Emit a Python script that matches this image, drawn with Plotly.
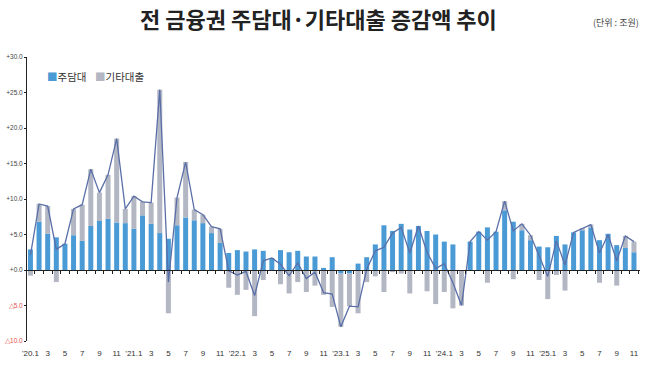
import plotly.graph_objects as go

months = ["'20.1", "2", "3", "4", "5", "6", "7", "8", "9", "10", "11", "12",
          "'21.1", "2", "3", "4", "5", "6", "7", "8", "9", "10", "11", "12",
          "'22.1", "2", "3", "4", "5", "6", "7", "8", "9", "10", "11", "12",
          "'23.1", "2", "3", "4", "5", "6", "7", "8", "9", "10", "11", "12",
          "'24.1", "2", "3", "4", "5", "6", "7", "8", "9", "10", "11", "12",
          "'25.1", "2", "3", "4", "5", "6", "7", "8", "9", "10", "11"]

mortgage = [2.9, 6.8, 5.1, 4.6, 3.7, 4.9, 4.1, 6.2, 6.9, 7.2, 6.7, 6.6,
            5.8, 7.7, 6.5, 5.2, 4.4, 6.3, 7.4, 7.0, 6.6, 5.2, 3.8, 2.4,
            2.8, 2.6, 2.9, 2.7, 1.7, 2.8, 2.5, 2.7, 1.9, 1.9, 0.3, 1.8,
            -0.5, -0.5, 0.9, 1.8, 3.6, 6.3, 5.5, 6.5, 5.7, 6.2, 5.5, 5.0,
            4.0, 3.6, 0.0, 4.0, 5.4, 6.0, 5.4, 8.4, 6.8, 5.6, 4.2, 3.3,
            3.2, 4.8, 3.6, 5.3, 5.6, 6.0, 4.2, 5.1, 3.5, 3.1, 2.5]

other = [-0.8, 2.5, 3.9, -1.7, 0.0, 3.7, 5.1, 8.0, 4.0, 6.2, 11.8, 2.0,
         4.6, 1.9, 3.0, 20.2, -6.1, 3.9, 7.8, 1.5, 1.2, 0.9, 2.0, -2.5,
         -3.5, -2.8, -6.5, -1.4, 0.0, -2.0, -3.3, -1.7, -3.1, -2.2, -3.5, -5.2,
         -7.5, -4.6, -6.1, -1.7, -0.9, -3.1, -0.3, -0.5, -3.3, 0.0, -3.0, -4.8,
         -3.1, -5.4, -5.0, 0.0, 0.0, -1.8, 0.0, 1.3, -1.3, 0.9, 0.7, -1.4,
         -4.1, -0.7, -2.9, 0.0, 0.3, 0.4, -1.8, -0.1, -2.2, 1.7, 1.5]

ytick_vals = [30, 25, 20, 15, 10, 5, 0, -5, -10]
ytick_text = ["+30.0", "+25.0", "+20.0", "+15.0", "+10.0", "+5.0", "+0.0",
              "<span style='color:#e0504a'>△5.0</span>",
              "<span style='color:#e0504a'>△10.0</span>"]

series_names = ["주담대", "기타대출"]

x = list(range(len(months)))
total = [round(a + b, 2) for a, b in zip(mortgage, other)]
label_idx = [i for i in x if i % 2 == 0]
label_txt = [months[i] for i in label_idx]

BLUE = "#4a9ad6"
GRAY = "#b3b7c3"
LINE = "#5a6fa8"
FONT = "Noto Sans CJK KR"

W, H = 650, 372
ML, MR, MT, MB = 27, 10, 57, 31
PW, PH = W - ML - MR, H - MT - MB


def px_x(p):
    return (p - ML) / PW


def px_y(p):
    return (H - MB - p) / PH


fig = go.Figure()
fig.add_trace(go.Bar(x=x, y=mortgage, name=series_names[0], marker_color=BLUE,
                     width=0.58, marker_line_width=0, showlegend=False))
fig.add_trace(go.Bar(x=x, y=other, name=series_names[1], marker_color=GRAY,
                     width=0.58, marker_line_width=0, showlegend=False))
fig.add_trace(go.Scatter(x=x, y=total, mode="lines", line=dict(color=LINE, width=1.3),
                         showlegend=False, hoverinfo="skip"))
# invisible trace to carry the zero-line axis with month ticks
fig.add_trace(go.Scatter(x=x, y=[0] * len(x), xaxis="x2", mode="lines",
                         line=dict(width=0), showlegend=False, hoverinfo="skip"))

xr = [-0.4, 70.7]
fig.update_layout(
    width=W, height=H,
    margin=dict(l=ML, r=MR, t=MT, b=MB, autoexpand=False),
    paper_bgcolor="white", plot_bgcolor="white",
    barmode="relative", bargap=0.4,
    font=dict(family=FONT, color="#333"),
    showlegend=False,
    xaxis=dict(range=xr, tickmode="array", tickvals=label_idx, ticktext=label_txt,
               showline=False, ticks="", showgrid=False, zeroline=False, automargin=False,
               tickfont=dict(size=8, color="#333", family="Liberation Sans Narrow, Liberation Sans"),
               tickangle=0, ticklabelstandoff=6),
    xaxis2=dict(range=xr, overlaying="x", anchor="free", position=0.25,
                showline=True, linecolor="#222", linewidth=1.2,
                ticks="outside", ticklen=3, tickcolor="#222",
                tickmode="linear", tick0=0.5, dtick=1, automargin=False,
                showticklabels=False, showgrid=False, zeroline=False),
    yaxis=dict(range=[-10, 30], tickmode="array", tickvals=ytick_vals, ticktext=ytick_text,
               showline=True, linecolor="#222", linewidth=1, ticks="outside", ticklen=2,
               tickcolor="#222", showgrid=False, zeroline=False, automargin=False,
               tickfont=dict(size=6.5, color="#444", family="Liberation Sans Narrow, Liberation Sans")),
    annotations=[
        dict(text="<b>전 금융권 주담대·기타대출 증감액 추이</b>", x=px_x(318), y=px_y(18),
             xref="paper", yref="paper", xanchor="center", yanchor="middle",
             showarrow=False, font=dict(size=22, color="#222", family=FONT)),
        dict(text="(단위 : 조원)", x=px_x(641), y=px_y(22), xref="paper", yref="paper",
             xanchor="right", yanchor="middle", showarrow=False,
             font=dict(size=9, color="#444", family=FONT)),
        dict(text=f"<span style='color:{BLUE}'>■</span>{series_names[0]}",
             x=px_x(45), y=px_y(76), xref="paper", yref="paper",
             xanchor="left", yanchor="middle", showarrow=False,
             font=dict(size=10.5, color="#333", family=FONT)),
        dict(text=f"<span style='color:{GRAY}'>■</span>{series_names[1]}",
             x=px_x(93), y=px_y(76), xref="paper", yref="paper",
             xanchor="left", yanchor="middle", showarrow=False,
             font=dict(size=10.5, color="#333", family=FONT)),
    ],
)

fig.write_html("out.html", config={"displayModeBar": False},
               post_script="document.body.style.margin='0';")
